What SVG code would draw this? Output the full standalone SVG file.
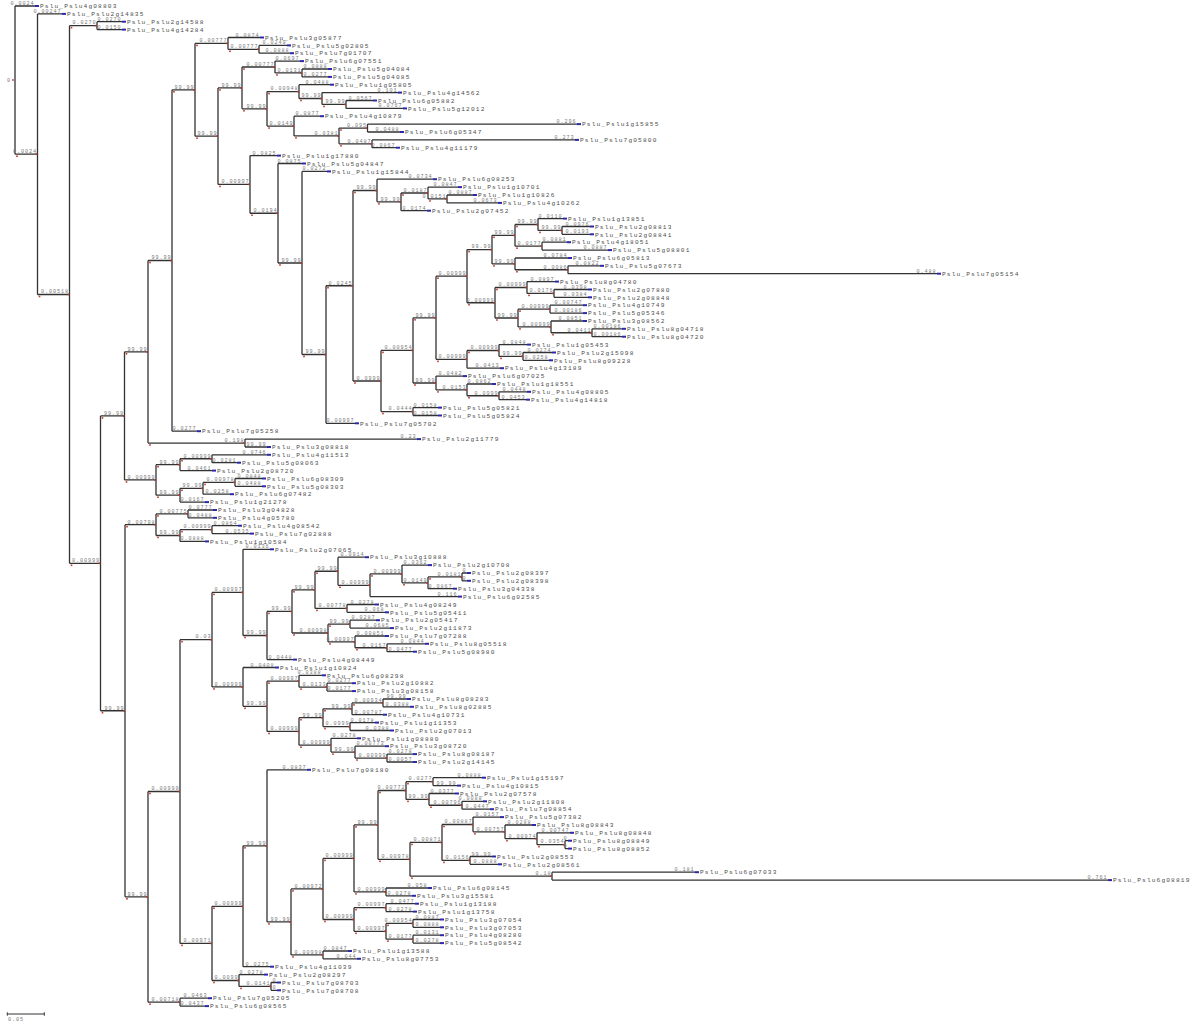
<svg xmlns="http://www.w3.org/2000/svg" xmlns:xlink="http://www.w3.org/1999/xlink" width="1200" height="1024" viewBox="0 0 1200 1024">
<style>
.c path{fill:none;stroke:#333;stroke-width:1.3}
.n{font-family:"Liberation Mono","DejaVu Sans Mono",monospace;font-size:5.2px;fill:#7a7a7a;letter-spacing:0.9px;text-anchor:end}
.t{font-family:"Liberation Mono","DejaVu Sans Mono",monospace;font-size:6.2px;fill:#4e4e4e;letter-spacing:1.13px}
</style>
<defs>
<rect id="rd" width="1.6" height="1.6" fill="#c0392b"/>
<rect id="bm" width="4" height="2" fill="#2a2ab0"/>
</defs>
<rect width="1200" height="1024" fill="#fff"/>
<g id="connectors" class="c">
<path d="M15 6V154.2M15 6H35M15 154.2H37.5"/>
<path d="M37.5 13.9V294.5M37.5 13.9H62M37.5 294.5H69.5"/>
<path d="M69.5 25.65V563.3M69.5 25.65H97M69.5 563.3H100.5"/>
<path d="M97 21.7V29.6M97 21.7H122M97 29.6H122"/>
<path d="M100.5 415.9V710.75M100.5 415.9H124.5M100.5 710.75H125"/>
<path d="M124.5 351.8V479.95M124.5 351.8H148M124.5 479.95H156"/>
<path d="M148 260.5V443.05M148 260.5H172M148 443.05H245"/>
<path d="M172 89.8V431.2M172 89.8H195M172 431.2H197"/>
<path d="M195 43.4V136.15M195 43.4H228M195 136.15H218"/>
<path d="M228 37.5V49.3M228 37.5H260M228 49.3H259"/>
<path d="M259 45.4V53.2M259 45.4H287M259 53.2H290"/>
<path d="M218 87.9V184.4M218 87.9H242M218 184.4H250"/>
<path d="M242 67V108.8M242 67H275M242 108.8H267"/>
<path d="M275 61.1V72.95M275 61.1H300M275 72.95H302"/>
<path d="M302 69V76.9M302 69H328M302 76.9H328"/>
<path d="M267 91.6V126.05M267 91.6H299M267 126.05H294"/>
<path d="M299 84.7V98.5M299 84.7H330M299 98.5H322"/>
<path d="M322 92.6V104.45M322 92.6H398M322 104.45H346"/>
<path d="M346 100.5V108.4M346 100.5H373M346 108.4H403"/>
<path d="M294 116.2V135.9M294 116.2H320M294 135.9H339"/>
<path d="M339 128.05V143.8M339 128.05H367.5M339 143.8H372"/>
<path d="M367.5 124.1V132M367.5 124.1H577M367.5 132H400"/>
<path d="M372 139.9V147.7M372 139.9H575M372 147.7H396"/>
<path d="M250 155.6V213.25M250 155.6H277M250 213.25H278"/>
<path d="M278 163.5V263M278 163.5H302M278 263H302"/>
<path d="M302 171.4V354.5M302 171.4H327M302 354.5H326"/>
<path d="M326 285.75V423.3M326 285.75H353M326 423.3H355"/>
<path d="M353 190.5V381M353 190.5H377M353 381H381"/>
<path d="M377 179.2V201.85M377 179.2H433M377 201.85H401"/>
<path d="M401 193V210.7M401 193H428M401 210.7H427"/>
<path d="M428 187.1V198.95M428 187.1H458M428 198.95H447"/>
<path d="M447 195V202.9M447 195H473M447 202.9H498"/>
<path d="M381 350.4V411.55M381 350.4H413M381 411.55H413"/>
<path d="M413 317.8V383M413 317.8H436M413 383H436"/>
<path d="M436 276.2V359.35M436 276.2H467M436 359.35H467"/>
<path d="M467 249.6V302.75M467 249.6H492M467 302.75H495"/>
<path d="M492 235.3V263.9M492 235.3H515M492 263.9H515"/>
<path d="M515 224.5V246.15M515 224.5H538M515 246.15H542"/>
<path d="M538 218.6V230.4M538 218.6H563M538 230.4H562"/>
<path d="M562 226.5V234.3M562 226.5H590M562 234.3H590"/>
<path d="M542 242.2V250.1M542 242.2H567M542 250.1H608"/>
<path d="M515 258V269.75M515 258H568M515 269.75H568"/>
<path d="M568 265.8V273.7M568 265.8H600M568 273.7H937"/>
<path d="M495 287.5V318M495 287.5H527M495 318H518"/>
<path d="M527 281.6V293.4M527 281.6H555M527 293.4H554"/>
<path d="M554 289.5V297.3M554 289.5H588M554 297.3H588"/>
<path d="M518 309.15V326.9M518 309.15H550M518 326.9H551"/>
<path d="M550 305.2V313.1M550 305.2H583M550 313.1H583"/>
<path d="M551 321V332.75M551 321H583M551 332.75H592"/>
<path d="M592 328.8V336.7M592 328.8H622M592 336.7H622"/>
<path d="M467 350.5V368.2M467 350.5H499M467 368.2H500"/>
<path d="M499 344.6V356.4M499 344.6H527M499 356.4H523"/>
<path d="M523 352.5V360.3M523 352.5H552M523 360.3H549"/>
<path d="M436 376.1V389.9M436 376.1H463M436 389.9H467"/>
<path d="M467 384V395.75M467 384H492M467 395.75H499"/>
<path d="M499 391.8V399.7M499 391.8H527M499 399.7H526"/>
<path d="M413 407.6V415.5M413 407.6H438M413 415.5H438"/>
<path d="M245 439.1V447M245 439.1H417M245 447H267"/>
<path d="M156 464.7V495.2M156 464.7H180M156 495.2H180"/>
<path d="M180 458.75V470.6M180 458.75H212M180 470.6H212"/>
<path d="M212 454.8V462.7M212 454.8H267M212 462.7H237"/>
<path d="M180 488.3V502.1M180 488.3H203M180 502.1H205"/>
<path d="M203 482.4V494.2M203 482.4H235M203 494.2H230"/>
<path d="M235 478.5V486.3M235 478.5H262M235 486.3H262"/>
<path d="M125 524.7V896.8M125 524.7H156M125 896.8H148"/>
<path d="M156 513.9V535.5M156 513.9H188M156 535.5H180"/>
<path d="M188 510V517.8M188 510H213M188 517.8H213"/>
<path d="M180 529.65V541.4M180 529.65H212M180 541.4H205"/>
<path d="M212 525.7V533.6M212 525.7H238M212 533.6H250"/>
<path d="M148 791.5V1002.15M148 791.5H180M148 1002.15H180"/>
<path d="M180 639.65V943.4M180 639.65H212M180 943.4H212"/>
<path d="M212 592.4V686.9M212 592.4H243M212 686.9H243"/>
<path d="M243 549.3V635.5M243 549.3H270M243 635.5H267"/>
<path d="M267 611.4V659.6M267 611.4H292M267 659.6H293"/>
<path d="M292 589.8V633M292 589.8H315M292 633H328"/>
<path d="M315 571.25V608.4M315 571.25H338M315 608.4H347"/>
<path d="M338 557.2V585.3M338 557.2H365M338 585.3H370"/>
<path d="M370 573.95V596.6M370 573.95H402M370 596.6H458"/>
<path d="M402 565.1V582.8M402 565.1H428M402 582.8H428"/>
<path d="M428 576.9V588.7M428 576.9H462M428 588.7H453"/>
<path d="M462 573V580.8M462 573H467M462 580.8H467"/>
<path d="M347 604.5V612.3M347 604.5H375M347 612.3H385"/>
<path d="M328 624.15V641.9M328 624.15H350M328 641.9H355"/>
<path d="M350 620.2V628.1M350 620.2H376M350 628.1H390"/>
<path d="M355 636V647.75M355 636H385M355 647.75H387"/>
<path d="M387 643.8V651.7M387 643.8H425M387 651.7H413"/>
<path d="M243 667.5V706.3M243 667.5H275M243 706.3H267"/>
<path d="M267 681.2V731.45M267 681.2H299M267 731.45H299"/>
<path d="M299 675.3V687.15M299 675.3H322M299 687.15H327"/>
<path d="M327 683.2V691.1M327 683.2H352M327 691.1H352"/>
<path d="M299 717.7V745.2M299 717.7H323M299 745.2H331"/>
<path d="M323 708.8V726.55M323 708.8H352M323 726.55H350"/>
<path d="M352 702.9V714.7M352 702.9H383M352 714.7H383"/>
<path d="M383 699V706.8M383 699H407M383 706.8H410"/>
<path d="M350 722.6V730.5M350 722.6H375M350 730.5H390"/>
<path d="M331 738.3V752.1M331 738.3H357M331 752.1H355"/>
<path d="M355 746.2V758.05M355 746.2H385M355 758.05H387"/>
<path d="M387 754.1V762M387 754.1H413M387 762H413"/>
<path d="M212 906.3V980.5M212 906.3H243M212 980.5H239"/>
<path d="M243 845.85V966.7M243 845.85H267M243 966.7H270"/>
<path d="M267 769.8V921.9M267 769.8H307M267 921.9H291"/>
<path d="M291 888.95V954.9M291 888.95H323M291 954.9H323"/>
<path d="M323 858.4V919.5M323 858.4H354M323 919.5H354"/>
<path d="M354 824.9V891.9M354 824.9H378M354 891.9H386"/>
<path d="M378 790.5V859.3M378 790.5H406M378 859.3H410"/>
<path d="M406 781.65V799.4M406 781.65H433M406 799.4H429"/>
<path d="M433 777.7V785.6M433 777.7H482M433 785.6H457"/>
<path d="M429 793.5V805.25M429 793.5H455M429 805.25H462"/>
<path d="M462 801.3V809.2M462 801.3H483M462 809.2H490"/>
<path d="M410 842.45V876.15M410 842.45H442M410 876.15H552"/>
<path d="M442 824.5V860.4M442 824.5H473M442 860.4H470"/>
<path d="M473 817.1V831.85M473 817.1H500M473 831.85H505"/>
<path d="M505 825V838.7M505 825H532M505 838.7H537"/>
<path d="M537 832.8V844.65M537 832.8H570M537 844.65H565"/>
<path d="M565 840.7V848.6M565 840.7H568M565 848.6H568"/>
<path d="M470 856.5V864.3M470 856.5H492M470 864.3H498"/>
<path d="M552 872.2V880.1M552 872.2H695M552 880.1H1108"/>
<path d="M386 888V895.8M386 888H428M386 895.8H412"/>
<path d="M354 907.65V931.3M354 907.65H386M354 931.3H386"/>
<path d="M386 903.7V911.6M386 903.7H415M386 911.6H413"/>
<path d="M386 923.4V939.15M386 923.4H413M386 939.15H413"/>
<path d="M413 919.5V927.3M413 919.5H440M413 927.3H440"/>
<path d="M413 935.2V943.1M413 935.2H440M413 943.1H440"/>
<path d="M323 951V958.8M323 951H348M323 958.8H357"/>
<path d="M239 974.6V986.4M239 974.6H264M239 986.4H271"/>
<path d="M271 982.5V990.3M271 982.5H277M271 990.3H277"/>
<path d="M180 998.2V1006.1M180 998.2H208M180 1006.1H205"/>
</g>
<g id="root"><text class="n" x="11" y="82">0</text><use href="#rd" x="12.2" y="79.2"/></g>
<g id="nodes">
<g id="N1"><use href="#rd" x="16.2" y="155.4"/><use href="#rd" x="35.7" y="153.4"/><text class="n" x="37" y="153">0.0024</text></g>
<g id="N2"><use href="#rd" x="38.7" y="295.7"/><use href="#rd" x="67.7" y="293.7"/><text class="n" x="69" y="293.3">0.00518</text></g>
<g id="N3"><use href="#rd" x="70.7" y="26.85"/><use href="#rd" x="95.2" y="24.85"/><text class="n" x="96.5" y="24.45">0.0270</text></g>
<g id="N4"><use href="#rd" x="70.7" y="564.5"/><use href="#rd" x="98.7" y="562.5"/><text class="n" x="100" y="562.1">0.00999</text></g>
<g id="N5"><use href="#rd" x="101.7" y="417.1"/><use href="#rd" x="122.7" y="415.1"/><text class="n" x="124" y="414.7">99.99</text></g>
<g id="N63"><use href="#rd" x="101.7" y="711.95"/><use href="#rd" x="123.2" y="709.95"/><text class="n" x="124.5" y="709.55">99.99</text></g>
<g id="N6"><use href="#rd" x="125.7" y="353"/><use href="#rd" x="146.2" y="351"/><text class="n" x="147.5" y="350.6">99.99</text></g>
<g id="NG"><use href="#rd" x="125.7" y="481.15"/><use href="#rd" x="154.2" y="479.15"/><text class="n" x="155.5" y="478.75">0.00999</text></g>
<g id="N7"><use href="#rd" x="149.2" y="261.7"/><use href="#rd" x="170.2" y="259.7"/><text class="n" x="171.5" y="259.3">99.99</text></g>
<g id="NX"><use href="#rd" x="149.2" y="444.25"/><use href="#rd" x="243.2" y="442.25"/><text class="n" x="244.5" y="441.85">0.198</text></g>
<g id="N8"><use href="#rd" x="173.2" y="91"/><use href="#rd" x="193.2" y="89"/><text class="n" x="194.5" y="88.6">99.99</text></g>
<g id="N9"><use href="#rd" x="196.2" y="44.6"/><use href="#rd" x="226.2" y="42.6"/><text class="n" x="227.5" y="42.2">0.00777</text></g>
<g id="N10"><use href="#rd" x="196.2" y="137.35"/><use href="#rd" x="216.2" y="135.35"/><text class="n" x="217.5" y="134.95">99.99</text></g>
<g id="N11"><use href="#rd" x="229.2" y="50.5"/><use href="#rd" x="257.2" y="48.5"/><text class="n" x="258.5" y="48.1">0.00777</text></g>
<g id="N12"><use href="#rd" x="219.2" y="89.1"/><use href="#rd" x="240.2" y="87.1"/><text class="n" x="241.5" y="86.7">99.99</text></g>
<g id="N20"><use href="#rd" x="219.2" y="185.6"/><use href="#rd" x="248.2" y="183.6"/><text class="n" x="249.5" y="183.2">0.00997</text></g>
<g id="N13"><use href="#rd" x="243.2" y="68.2"/><use href="#rd" x="273.2" y="66.2"/><text class="n" x="274.5" y="65.8">0.00777</text></g>
<g id="N14"><use href="#rd" x="243.2" y="110"/><use href="#rd" x="265.2" y="108"/><text class="n" x="266.5" y="107.6">99.99</text></g>
<g id="N15"><use href="#rd" x="276.2" y="74.15"/><use href="#rd" x="300.2" y="72.15"/><text class="n" x="301.5" y="71.75">0.0131</text></g>
<g id="N16"><use href="#rd" x="268.2" y="92.8"/><use href="#rd" x="297.2" y="90.8"/><text class="n" x="298.5" y="90.4">0.00948</text></g>
<g id="N17"><use href="#rd" x="268.2" y="127.25"/><use href="#rd" x="292.2" y="125.25"/><text class="n" x="293.5" y="124.85">0.0149</text></g>
<g id="N18"><use href="#rd" x="300.2" y="99.7"/><use href="#rd" x="320.2" y="97.7"/><text class="n" x="321.5" y="97.3">99.99</text></g>
<g id="N19"><use href="#rd" x="323.2" y="105.65"/><use href="#rd" x="344.2" y="103.65"/><text class="n" x="345.5" y="103.25">99.99</text></g>
<g id="N21"><use href="#rd" x="295.2" y="137.1"/><use href="#rd" x="337.2" y="135.1"/><text class="n" x="338.5" y="134.7">0.0381</text></g>
<g id="N22"><use href="#rd" x="340.2" y="129.25"/><use href="#rd" x="365.7" y="127.25"/><text class="n" x="367" y="126.85">0.095</text></g>
<g id="N23"><use href="#rd" x="340.2" y="145"/><use href="#rd" x="370.2" y="143"/><text class="n" x="371.5" y="142.6">0.0487</text></g>
<g id="N24"><use href="#rd" x="251.2" y="214.45"/><use href="#rd" x="276.2" y="212.45"/><text class="n" x="277.5" y="212.05">0.0194</text></g>
<g id="N25"><use href="#rd" x="279.2" y="264.2"/><use href="#rd" x="300.2" y="262.2"/><text class="n" x="301.5" y="261.8">99.99</text></g>
<g id="N26"><use href="#rd" x="303.2" y="355.7"/><use href="#rd" x="324.2" y="353.7"/><text class="n" x="325.5" y="353.3">99.99</text></g>
<g id="N27"><use href="#rd" x="327.2" y="286.95"/><use href="#rd" x="351.2" y="284.95"/><text class="n" x="352.5" y="284.55">0.0245</text></g>
<g id="N28"><use href="#rd" x="354.2" y="191.7"/><use href="#rd" x="375.2" y="189.7"/><text class="n" x="376.5" y="189.3">99.99</text></g>
<g id="N29"><use href="#rd" x="354.2" y="382.2"/><use href="#rd" x="379.2" y="380.2"/><text class="n" x="380.5" y="379.8">0.0999</text></g>
<g id="N30"><use href="#rd" x="378.2" y="203.05"/><use href="#rd" x="399.2" y="201.05"/><text class="n" x="400.5" y="200.65">99.99</text></g>
<g id="N31"><use href="#rd" x="402.2" y="194.2"/><use href="#rd" x="426.2" y="192.2"/><text class="n" x="427.5" y="191.8">0.0187</text></g>
<g id="N32"><use href="#rd" x="429.2" y="200.15"/><use href="#rd" x="445.2" y="198.15"/><text class="n" x="446.5" y="197.75">0.0151</text></g>
<g id="N33"><use href="#rd" x="382.2" y="351.6"/><use href="#rd" x="411.2" y="349.6"/><text class="n" x="412.5" y="349.2">0.00954</text></g>
<g id="N34"><use href="#rd" x="382.2" y="412.75"/><use href="#rd" x="411.2" y="410.75"/><text class="n" x="412.5" y="410.35">0.0444</text></g>
<g id="N35"><use href="#rd" x="414.2" y="319"/><use href="#rd" x="434.2" y="317"/><text class="n" x="435.5" y="316.6">99.99</text></g>
<g id="N36"><use href="#rd" x="414.2" y="384.2"/><use href="#rd" x="434.2" y="382.2"/><text class="n" x="435.5" y="381.8">99.99</text></g>
<g id="N37"><use href="#rd" x="437.2" y="277.4"/><use href="#rd" x="465.2" y="275.4"/><text class="n" x="466.5" y="275">0.00999</text></g>
<g id="N52"><use href="#rd" x="437.2" y="360.55"/><use href="#rd" x="465.2" y="358.55"/><text class="n" x="466.5" y="358.15">0.00999</text></g>
<g id="N40"><use href="#rd" x="468.2" y="250.8"/><use href="#rd" x="490.2" y="248.8"/><text class="n" x="491.5" y="248.4">99.99</text></g>
<g id="N45"><use href="#rd" x="468.2" y="303.95"/><use href="#rd" x="493.2" y="301.95"/><text class="n" x="494.5" y="301.55">0.00999</text></g>
<g id="N41"><use href="#rd" x="493.2" y="236.5"/><use href="#rd" x="513.2" y="234.5"/><text class="n" x="514.5" y="234.1">99.99</text></g>
<g id="N42"><use href="#rd" x="493.2" y="265.1"/><use href="#rd" x="513.2" y="263.1"/><text class="n" x="514.5" y="262.7">99.99</text></g>
<g id="N38"><use href="#rd" x="516.2" y="225.7"/><use href="#rd" x="536.2" y="223.7"/><text class="n" x="537.5" y="223.3">99.99</text></g>
<g id="N39"><use href="#rd" x="516.2" y="247.35"/><use href="#rd" x="540.2" y="245.35"/><text class="n" x="541.5" y="244.95">0.0177</text></g>
<g id="N43"><use href="#rd" x="539.2" y="231.6"/><use href="#rd" x="560.2" y="229.6"/><text class="n" x="561.5" y="229.2">99.99</text></g>
<g id="N44"><use href="#rd" x="516.2" y="270.95"/><use href="#rd" x="566.2" y="268.95"/><text class="n" x="567.5" y="268.55">0.0086</text></g>
<g id="N46"><use href="#rd" x="496.2" y="288.7"/><use href="#rd" x="525.2" y="286.7"/><text class="n" x="526.5" y="286.3">0.00999</text></g>
<g id="N47"><use href="#rd" x="496.2" y="319.2"/><use href="#rd" x="516.2" y="317.2"/><text class="n" x="517.5" y="316.8">99.99</text></g>
<g id="N48"><use href="#rd" x="528.2" y="294.6"/><use href="#rd" x="552.2" y="292.6"/><text class="n" x="553.5" y="292.2">0.0176</text></g>
<g id="N49"><use href="#rd" x="519.2" y="310.35"/><use href="#rd" x="548.2" y="308.35"/><text class="n" x="549.5" y="307.95">0.00999</text></g>
<g id="N50"><use href="#rd" x="519.2" y="328.1"/><use href="#rd" x="549.2" y="326.1"/><text class="n" x="550.5" y="325.7">0.00999</text></g>
<g id="N51"><use href="#rd" x="552.2" y="333.95"/><use href="#rd" x="590.2" y="331.95"/><text class="n" x="591.5" y="331.55">0.0411</text></g>
<g id="N53"><use href="#rd" x="468.2" y="351.7"/><use href="#rd" x="497.2" y="349.7"/><text class="n" x="498.5" y="349.3">0.00999</text></g>
<g id="N54"><use href="#rd" x="500.2" y="357.6"/><use href="#rd" x="521.2" y="355.6"/><text class="n" x="522.5" y="355.2">99.99</text></g>
<g id="N55"><use href="#rd" x="437.2" y="391.1"/><use href="#rd" x="465.2" y="389.1"/><text class="n" x="466.5" y="388.7">0.0153</text></g>
<g id="N56"><use href="#rd" x="468.2" y="396.95"/><use href="#rd" x="497.2" y="394.95"/><text class="n" x="498.5" y="394.55">0.0999</text></g>
<g id="N57"><use href="#rd" x="157.2" y="465.9"/><use href="#rd" x="178.2" y="463.9"/><text class="n" x="179.5" y="463.5">99.99</text></g>
<g id="N58"><use href="#rd" x="157.2" y="496.4"/><use href="#rd" x="178.2" y="494.4"/><text class="n" x="179.5" y="494">99.99</text></g>
<g id="N59"><use href="#rd" x="181.2" y="459.95"/><use href="#rd" x="210.2" y="457.95"/><text class="n" x="211.5" y="457.55">0.00999</text></g>
<g id="N60"><use href="#rd" x="181.2" y="489.5"/><use href="#rd" x="201.2" y="487.5"/><text class="n" x="202.5" y="487.1">99.99</text></g>
<g id="N61"><use href="#rd" x="204.2" y="483.6"/><use href="#rd" x="233.2" y="481.6"/><text class="n" x="234.5" y="481.2">0.00978</text></g>
<g id="N64"><use href="#rd" x="126.2" y="525.9"/><use href="#rd" x="154.2" y="523.9"/><text class="n" x="155.5" y="523.5">0.00798</text></g>
<g id="N65"><use href="#rd" x="126.2" y="898"/><use href="#rd" x="146.2" y="896"/><text class="n" x="147.5" y="895.6">99.99</text></g>
<g id="N66"><use href="#rd" x="157.2" y="515.1"/><use href="#rd" x="186.2" y="513.1"/><text class="n" x="187.5" y="512.7">0.00775</text></g>
<g id="N67"><use href="#rd" x="157.2" y="536.7"/><use href="#rd" x="178.2" y="534.7"/><text class="n" x="179.5" y="534.3">99.99</text></g>
<g id="N62"><use href="#rd" x="181.2" y="530.85"/><use href="#rd" x="210.2" y="528.85"/><text class="n" x="211.5" y="528.45">0.00999</text></g>
<g id="N68"><use href="#rd" x="149.2" y="792.7"/><use href="#rd" x="178.2" y="790.7"/><text class="n" x="179.5" y="790.3">0.00999</text></g>
<g id="N71"><use href="#rd" x="149.2" y="1003.35"/><use href="#rd" x="178.2" y="1001.35"/><text class="n" x="179.5" y="1000.95">0.00718</text></g>
<g id="N69"><use href="#rd" x="181.2" y="640.85"/><use href="#rd" x="210.2" y="638.85"/><text class="n" x="211.5" y="638.45">0.03</text></g>
<g id="N70"><use href="#rd" x="181.2" y="944.6"/><use href="#rd" x="210.2" y="942.6"/><text class="n" x="211.5" y="942.2">0.00971</text></g>
<g id="N72"><use href="#rd" x="213.2" y="593.6"/><use href="#rd" x="241.2" y="591.6"/><text class="n" x="242.5" y="591.2">0.00997</text></g>
<g id="N73"><use href="#rd" x="213.2" y="688.1"/><use href="#rd" x="241.2" y="686.1"/><text class="n" x="242.5" y="685.7">0.00999</text></g>
<g id="N74"><use href="#rd" x="244.2" y="636.7"/><use href="#rd" x="265.2" y="634.7"/><text class="n" x="266.5" y="634.3">99.99</text></g>
<g id="N75"><use href="#rd" x="268.2" y="612.6"/><use href="#rd" x="290.2" y="610.6"/><text class="n" x="291.5" y="610.2">99.99</text></g>
<g id="N76"><use href="#rd" x="293.2" y="591"/><use href="#rd" x="313.2" y="589"/><text class="n" x="314.5" y="588.6">99.99</text></g>
<g id="N77"><use href="#rd" x="293.2" y="634.2"/><use href="#rd" x="326.2" y="632.2"/><text class="n" x="327.5" y="631.8">0.00998</text></g>
<g id="N78"><use href="#rd" x="316.2" y="572.45"/><use href="#rd" x="336.2" y="570.45"/><text class="n" x="337.5" y="570.05">99.99</text></g>
<g id="N79"><use href="#rd" x="316.2" y="609.6"/><use href="#rd" x="345.2" y="607.6"/><text class="n" x="346.5" y="607.2">0.00778</text></g>
<g id="N80"><use href="#rd" x="339.2" y="586.5"/><use href="#rd" x="368.2" y="584.5"/><text class="n" x="369.5" y="584.1">0.00999</text></g>
<g id="N81"><use href="#rd" x="371.2" y="575.15"/><use href="#rd" x="400.2" y="573.15"/><text class="n" x="401.5" y="572.75">0.00999</text></g>
<g id="N82"><use href="#rd" x="403.2" y="584"/><use href="#rd" x="426.2" y="582"/><text class="n" x="427.5" y="581.6">0.0149</text></g>
<g id="N83"><use href="#rd" x="429.2" y="578.1"/><use href="#rd" x="460.2" y="576.1"/><text class="n" x="461.5" y="575.7">0.0181</text></g>
<g id="N84"><use href="#rd" x="329.2" y="625.35"/><use href="#rd" x="348.2" y="623.35"/><text class="n" x="349.5" y="622.95">99.99</text></g>
<g id="N85"><use href="#rd" x="329.2" y="643.1"/><use href="#rd" x="353.2" y="641.1"/><text class="n" x="354.5" y="640.7">0.00997</text></g>
<g id="N86"><use href="#rd" x="356.2" y="648.95"/><use href="#rd" x="385.2" y="646.95"/><text class="n" x="386.5" y="646.55">0.0167</text></g>
<g id="N87"><use href="#rd" x="244.2" y="707.5"/><use href="#rd" x="265.2" y="705.5"/><text class="n" x="266.5" y="705.1">99.99</text></g>
<g id="N88"><use href="#rd" x="268.2" y="682.4"/><use href="#rd" x="297.2" y="680.4"/><text class="n" x="298.5" y="680">0.00997</text></g>
<g id="N89"><use href="#rd" x="268.2" y="732.65"/><use href="#rd" x="297.2" y="730.65"/><text class="n" x="298.5" y="730.25">0.00999</text></g>
<g id="N90"><use href="#rd" x="300.2" y="688.35"/><use href="#rd" x="325.2" y="686.35"/><text class="n" x="326.5" y="685.95">0.0133</text></g>
<g id="N91"><use href="#rd" x="300.2" y="718.9"/><use href="#rd" x="321.2" y="716.9"/><text class="n" x="322.5" y="716.5">99.99</text></g>
<g id="N92"><use href="#rd" x="300.2" y="746.4"/><use href="#rd" x="329.2" y="744.4"/><text class="n" x="330.5" y="744">0.00999</text></g>
<g id="N93"><use href="#rd" x="324.2" y="710"/><use href="#rd" x="350.2" y="708"/><text class="n" x="351.5" y="707.6">99.99</text></g>
<g id="N94"><use href="#rd" x="324.2" y="727.75"/><use href="#rd" x="348.2" y="725.75"/><text class="n" x="349.5" y="725.35">0.0999</text></g>
<g id="N95"><use href="#rd" x="353.2" y="704.1"/><use href="#rd" x="381.2" y="702.1"/><text class="n" x="382.5" y="701.7">0.00934</text></g>
<g id="N96"><use href="#rd" x="332.2" y="753.3"/><use href="#rd" x="353.2" y="751.3"/><text class="n" x="354.5" y="750.9">99.99</text></g>
<g id="N97"><use href="#rd" x="356.2" y="759.25"/><use href="#rd" x="385.2" y="757.25"/><text class="n" x="386.5" y="756.85">0.00999</text></g>
<g id="N98"><use href="#rd" x="213.2" y="907.5"/><use href="#rd" x="241.2" y="905.5"/><text class="n" x="242.5" y="905.1">0.00999</text></g>
<g id="N99"><use href="#rd" x="213.2" y="981.7"/><use href="#rd" x="237.2" y="979.7"/><text class="n" x="238.5" y="979.3">0.0099</text></g>
<g id="N100"><use href="#rd" x="240.2" y="987.6"/><use href="#rd" x="269.2" y="985.6"/><text class="n" x="270.5" y="985.2">0.0141</text></g>
<g id="N101"><use href="#rd" x="244.2" y="847.05"/><use href="#rd" x="265.2" y="845.05"/><text class="n" x="266.5" y="844.65">99.99</text></g>
<g id="N102"><use href="#rd" x="268.2" y="923.1"/><use href="#rd" x="289.2" y="921.1"/><text class="n" x="290.5" y="920.7">99.99</text></g>
<g id="N103"><use href="#rd" x="292.2" y="890.15"/><use href="#rd" x="321.2" y="888.15"/><text class="n" x="322.5" y="887.75">0.00972</text></g>
<g id="N104"><use href="#rd" x="292.2" y="956.1"/><use href="#rd" x="321.2" y="954.1"/><text class="n" x="322.5" y="953.7">0.00998</text></g>
<g id="N105"><use href="#rd" x="324.2" y="859.6"/><use href="#rd" x="352.2" y="857.6"/><text class="n" x="353.5" y="857.2">0.00999</text></g>
<g id="N106"><use href="#rd" x="324.2" y="920.7"/><use href="#rd" x="352.2" y="918.7"/><text class="n" x="353.5" y="918.3">0.00999</text></g>
<g id="N107"><use href="#rd" x="355.2" y="826.1"/><use href="#rd" x="376.2" y="824.1"/><text class="n" x="377.5" y="823.7">99.99</text></g>
<g id="N108"><use href="#rd" x="355.2" y="893.1"/><use href="#rd" x="384.2" y="891.1"/><text class="n" x="385.5" y="890.7">0.00999</text></g>
<g id="N109"><use href="#rd" x="379.2" y="791.7"/><use href="#rd" x="404.2" y="789.7"/><text class="n" x="405.5" y="789.3">0.00772</text></g>
<g id="N110"><use href="#rd" x="379.2" y="860.5"/><use href="#rd" x="408.2" y="858.5"/><text class="n" x="409.5" y="858.1">0.00978</text></g>
<g id="N111"><use href="#rd" x="407.2" y="782.85"/><use href="#rd" x="431.2" y="780.85"/><text class="n" x="432.5" y="780.45">0.0277</text></g>
<g id="N112"><use href="#rd" x="407.2" y="800.6"/><use href="#rd" x="427.2" y="798.6"/><text class="n" x="428.5" y="798.2">99.99</text></g>
<g id="N113"><use href="#rd" x="430.2" y="806.45"/><use href="#rd" x="460.2" y="804.45"/><text class="n" x="461.5" y="804.05">0.00796</text></g>
<g id="N114"><use href="#rd" x="411.2" y="843.65"/><use href="#rd" x="440.2" y="841.65"/><text class="n" x="441.5" y="841.25">0.00871</text></g>
<g id="N115"><use href="#rd" x="411.2" y="877.35"/><use href="#rd" x="550.2" y="875.35"/><text class="n" x="551.5" y="874.95">0.18</text></g>
<g id="N116"><use href="#rd" x="443.2" y="825.7"/><use href="#rd" x="471.2" y="823.7"/><text class="n" x="472.5" y="823.3">0.00887</text></g>
<g id="N117"><use href="#rd" x="443.2" y="861.6"/><use href="#rd" x="468.2" y="859.6"/><text class="n" x="469.5" y="859.2">0.0156</text></g>
<g id="N118"><use href="#rd" x="474.2" y="833.05"/><use href="#rd" x="503.2" y="831.05"/><text class="n" x="504.5" y="830.65">0.00757</text></g>
<g id="N119"><use href="#rd" x="506.2" y="839.9"/><use href="#rd" x="535.2" y="837.9"/><text class="n" x="536.5" y="837.5">0.00974</text></g>
<g id="N120"><use href="#rd" x="538.2" y="845.85"/><use href="#rd" x="563.2" y="843.85"/><text class="n" x="564.5" y="843.45">0.0354</text></g>
<g id="N121"><use href="#rd" x="355.2" y="908.85"/><use href="#rd" x="384.2" y="906.85"/><text class="n" x="385.5" y="906.45">0.00997</text></g>
<g id="N122"><use href="#rd" x="355.2" y="932.5"/><use href="#rd" x="384.2" y="930.5"/><text class="n" x="385.5" y="930.1">0.00997</text></g>
<g id="N123"><use href="#rd" x="387.2" y="924.6"/><use href="#rd" x="411.2" y="922.6"/><text class="n" x="412.5" y="922.2">0.00954</text></g>
<g id="N124"><use href="#rd" x="387.2" y="940.35"/><use href="#rd" x="411.2" y="938.35"/><text class="n" x="412.5" y="937.95">0.0177</text></g>
</g>
<g id="leaves">
<g id="L1"><text class="n" x="34.5" y="5">0.0024</text><use href="#bm" x="35" y="5"/><text class="t" x="40" y="8.2">Pslu_Pslu4g08803</text></g>
<g id="L2"><text class="n" x="61.5" y="12.9">0.00247</text><use href="#bm" x="62" y="12.9"/><text class="t" x="67" y="16.1">Pslu_Pslu2g14835</text></g>
<g id="L3"><text class="n" x="121.5" y="20.7">0.0270</text><use href="#bm" x="122" y="20.7"/><text class="t" x="127" y="23.9">Pslu_Pslu2g14588</text></g>
<g id="L4"><text class="n" x="121.5" y="28.6">0.0150</text><use href="#bm" x="122" y="28.6"/><text class="t" x="127" y="31.8">Pslu_Pslu4g14284</text></g>
<g id="L5"><text class="n" x="259.5" y="36.5">0.0874</text><use href="#bm" x="260" y="36.5"/><text class="t" x="265" y="39.7">Pslu_Pslu3g05877</text></g>
<g id="L6"><text class="n" x="286.5" y="44.4">0.0249</text><use href="#bm" x="287" y="44.4"/><text class="t" x="292" y="47.6">Pslu_Pslu5g02805</text></g>
<g id="L7"><text class="n" x="289.5" y="52.2">0.0888</text><use href="#bm" x="290" y="52.2"/><text class="t" x="295" y="55.4">Pslu_Pslu7g01707</text></g>
<g id="L8"><text class="n" x="299.5" y="60.1">0.0697</text><use href="#bm" x="300" y="60.1"/><text class="t" x="305" y="63.3">Pslu_Pslu6g07551</text></g>
<g id="L9"><text class="n" x="327.5" y="68">0.0888</text><use href="#bm" x="328" y="68"/><text class="t" x="333" y="71.2">Pslu_Pslu5g04084</text></g>
<g id="L10"><text class="n" x="327.5" y="75.9">0.0277</text><use href="#bm" x="328" y="75.9"/><text class="t" x="333" y="79.1">Pslu_Pslu5g04085</text></g>
<g id="L11"><text class="n" x="329.5" y="83.7">0.0488</text><use href="#bm" x="330" y="83.7"/><text class="t" x="335" y="86.9">Pslu_Pslu1g05805</text></g>
<g id="L12"><text class="n" x="397.5" y="91.6">0.101</text><use href="#bm" x="398" y="91.6"/><text class="t" x="403" y="94.8">Pslu_Pslu4g14562</text></g>
<g id="L13"><text class="n" x="372.5" y="99.5">0.0567</text><use href="#bm" x="373" y="99.5"/><text class="t" x="378" y="102.7">Pslu_Pslu6g05882</text></g>
<g id="L14"><text class="n" x="402.5" y="107.4">0.0767</text><use href="#bm" x="403" y="107.4"/><text class="t" x="408" y="110.6">Pslu_Pslu5g12012</text></g>
<g id="L15"><text class="n" x="319.5" y="115.2">0.0877</text><use href="#bm" x="320" y="115.2"/><text class="t" x="325" y="118.4">Pslu_Pslu4g10879</text></g>
<g id="L16"><text class="n" x="576.5" y="123.1">0.296</text><use href="#bm" x="577" y="123.1"/><text class="t" x="582" y="126.3">Pslu_Pslu1g15855</text></g>
<g id="L17"><text class="n" x="399.5" y="131">0.0488</text><use href="#bm" x="400" y="131"/><text class="t" x="405" y="134.2">Pslu_Pslu6g05347</text></g>
<g id="L18"><text class="n" x="574.5" y="138.9">0.273</text><use href="#bm" x="575" y="138.9"/><text class="t" x="580" y="142.1">Pslu_Pslu7g05800</text></g>
<g id="L19"><text class="n" x="395.5" y="146.7">0.0867</text><use href="#bm" x="396" y="146.7"/><text class="t" x="401" y="149.9">Pslu_Pslu4g11179</text></g>
<g id="L20"><text class="n" x="276.5" y="154.6">0.0825</text><use href="#bm" x="277" y="154.6"/><text class="t" x="282" y="157.8">Pslu_Pslu1g17880</text></g>
<g id="L21"><text class="n" x="301.5" y="162.5">0.0875</text><use href="#bm" x="302" y="162.5"/><text class="t" x="307" y="165.7">Pslu_Pslu5g04847</text></g>
<g id="L22"><text class="n" x="326.5" y="170.4">0.0272</text><use href="#bm" x="327" y="170.4"/><text class="t" x="332" y="173.6">Pslu_Pslu1g15844</text></g>
<g id="L23"><text class="n" x="432.5" y="178.2">0.0734</text><use href="#bm" x="433" y="178.2"/><text class="t" x="438" y="181.4">Pslu_Pslu6g08253</text></g>
<g id="L24"><text class="n" x="457.5" y="186.1">0.0847</text><use href="#bm" x="458" y="186.1"/><text class="t" x="463" y="189.3">Pslu_Pslu1g10701</text></g>
<g id="L25"><text class="n" x="472.5" y="194">0.0887</text><use href="#bm" x="473" y="194"/><text class="t" x="478" y="197.2">Pslu_Pslu1g10826</text></g>
<g id="L26"><text class="n" x="497.5" y="201.9">0.0673</text><use href="#bm" x="498" y="201.9"/><text class="t" x="503" y="205.1">Pslu_Pslu4g10262</text></g>
<g id="L27"><text class="n" x="426.5" y="209.7">0.0174</text><use href="#bm" x="427" y="209.7"/><text class="t" x="432" y="212.9">Pslu_Pslu2g07452</text></g>
<g id="L28"><text class="n" x="562.5" y="217.6">0.0110</text><use href="#bm" x="563" y="217.6"/><text class="t" x="568" y="220.8">Pslu_Pslu1g13851</text></g>
<g id="L29"><text class="n" x="589.5" y="225.5">0.0976</text><use href="#bm" x="590" y="225.5"/><text class="t" x="595" y="228.7">Pslu_Pslu2g08813</text></g>
<g id="L30"><text class="n" x="589.5" y="233.3">0.0193</text><use href="#bm" x="590" y="233.3"/><text class="t" x="595" y="236.5">Pslu_Pslu2g08841</text></g>
<g id="L31"><text class="n" x="566.5" y="241.2">0.0881</text><use href="#bm" x="567" y="241.2"/><text class="t" x="572" y="244.4">Pslu_Pslu4g18051</text></g>
<g id="L32"><text class="n" x="607.5" y="249.1">0.0887</text><use href="#bm" x="608" y="249.1"/><text class="t" x="613" y="252.3">Pslu_Pslu5g08801</text></g>
<g id="L33"><text class="n" x="567.5" y="257">0.0784</text><use href="#bm" x="568" y="257"/><text class="t" x="573" y="260.2">Pslu_Pslu6g05813</text></g>
<g id="L34"><text class="n" x="599.5" y="264.8">0.0822</text><use href="#bm" x="600" y="264.8"/><text class="t" x="605" y="268">Pslu_Pslu5g07673</text></g>
<g id="L35"><text class="n" x="936.5" y="272.7">0.488</text><use href="#bm" x="937" y="272.7"/><text class="t" x="942" y="275.9">Pslu_Pslu7g05154</text></g>
<g id="L36"><text class="n" x="554.5" y="280.6">0.0897</text><use href="#bm" x="555" y="280.6"/><text class="t" x="560" y="283.8">Pslu_Pslu8g04780</text></g>
<g id="L37"><text class="n" x="587.5" y="288.5">0.0398</text><use href="#bm" x="588" y="288.5"/><text class="t" x="593" y="291.7">Pslu_Pslu2g07880</text></g>
<g id="L38"><text class="n" x="587.5" y="296.3">0.0384</text><use href="#bm" x="588" y="296.3"/><text class="t" x="593" y="299.5">Pslu_Pslu2g08848</text></g>
<g id="L39"><text class="n" x="582.5" y="304.2">0.00747</text><use href="#bm" x="583" y="304.2"/><text class="t" x="588" y="307.4">Pslu_Pslu4g10749</text></g>
<g id="L40"><text class="n" x="582.5" y="312.1">0.00186</text><use href="#bm" x="583" y="312.1"/><text class="t" x="588" y="315.3">Pslu_Pslu5g05346</text></g>
<g id="L41"><text class="n" x="582.5" y="320">0.0851</text><use href="#bm" x="583" y="320"/><text class="t" x="588" y="323.2">Pslu_Pslu3g08562</text></g>
<g id="L42"><text class="n" x="621.5" y="327.8">0.00186</text><use href="#bm" x="622" y="327.8"/><text class="t" x="627" y="331">Pslu_Pslu8g04718</text></g>
<g id="L43"><text class="n" x="621.5" y="335.7">0.00186</text><use href="#bm" x="622" y="335.7"/><text class="t" x="627" y="338.9">Pslu_Pslu8g04720</text></g>
<g id="L44"><text class="n" x="526.5" y="343.6">0.0848</text><use href="#bm" x="527" y="343.6"/><text class="t" x="532" y="346.8">Pslu_Pslu1g05453</text></g>
<g id="L45"><text class="n" x="551.5" y="351.5">0.0274</text><use href="#bm" x="552" y="351.5"/><text class="t" x="557" y="354.7">Pslu_Pslu2g15098</text></g>
<g id="L46"><text class="n" x="548.5" y="359.3">0.0258</text><use href="#bm" x="549" y="359.3"/><text class="t" x="554" y="362.5">Pslu_Pslu8g09228</text></g>
<g id="L47"><text class="n" x="499.5" y="367.2">0.0413</text><use href="#bm" x="500" y="367.2"/><text class="t" x="505" y="370.4">Pslu_Pslu4g13189</text></g>
<g id="L48"><text class="n" x="462.5" y="375.1">0.0482</text><use href="#bm" x="463" y="375.1"/><text class="t" x="468" y="378.3">Pslu_Pslu6g07025</text></g>
<g id="L49"><text class="n" x="491.5" y="383">0.0862</text><use href="#bm" x="492" y="383"/><text class="t" x="497" y="386.2">Pslu_Pslu1g18551</text></g>
<g id="L50"><text class="n" x="526.5" y="390.8">0.0448</text><use href="#bm" x="527" y="390.8"/><text class="t" x="532" y="394">Pslu_Pslu4g08805</text></g>
<g id="L51"><text class="n" x="525.5" y="398.7">0.0453</text><use href="#bm" x="526" y="398.7"/><text class="t" x="531" y="401.9">Pslu_Pslu4g14818</text></g>
<g id="L52"><text class="n" x="437.5" y="406.6">0.0158</text><use href="#bm" x="438" y="406.6"/><text class="t" x="443" y="409.8">Pslu_Pslu5g05821</text></g>
<g id="L53"><text class="n" x="437.5" y="414.5">0.0158</text><use href="#bm" x="438" y="414.5"/><text class="t" x="443" y="417.7">Pslu_Pslu5g05824</text></g>
<g id="L54"><text class="n" x="354.5" y="422.3">0.00997</text><use href="#bm" x="355" y="422.3"/><text class="t" x="360" y="425.5">Pslu_Pslu7g05702</text></g>
<g id="L55"><text class="n" x="196.5" y="430.2">0.0277</text><use href="#bm" x="197" y="430.2"/><text class="t" x="202" y="433.4">Pslu_Pslu7g05258</text></g>
<g id="L56"><text class="n" x="416.5" y="438.1">0.23</text><use href="#bm" x="417" y="438.1"/><text class="t" x="422" y="441.3">Pslu_Pslu2g11779</text></g>
<g id="L57"><text class="n" x="266.5" y="446">99.99</text><use href="#bm" x="267" y="446"/><text class="t" x="272" y="449.2">Pslu_Pslu3g08818</text></g>
<g id="L58"><text class="n" x="266.5" y="453.8">0.0746</text><use href="#bm" x="267" y="453.8"/><text class="t" x="272" y="457">Pslu_Pslu4g11513</text></g>
<g id="L59"><text class="n" x="236.5" y="461.7">0.0281</text><use href="#bm" x="237" y="461.7"/><text class="t" x="242" y="464.9">Pslu_Pslu5g08063</text></g>
<g id="L60"><text class="n" x="211.5" y="469.6">0.0461</text><use href="#bm" x="212" y="469.6"/><text class="t" x="217" y="472.8">Pslu_Pslu2g08720</text></g>
<g id="L61"><text class="n" x="261.5" y="477.5">0.0848</text><use href="#bm" x="262" y="477.5"/><text class="t" x="267" y="480.7">Pslu_Pslu6g08309</text></g>
<g id="L62"><text class="n" x="261.5" y="485.3">0.0488</text><use href="#bm" x="262" y="485.3"/><text class="t" x="267" y="488.5">Pslu_Pslu5g08303</text></g>
<g id="L63"><text class="n" x="229.5" y="493.2">0.0258</text><use href="#bm" x="230" y="493.2"/><text class="t" x="235" y="496.4">Pslu_Pslu6g07482</text></g>
<g id="L64"><text class="n" x="204.5" y="501.1">0.0167</text><use href="#bm" x="205" y="501.1"/><text class="t" x="210" y="504.3">Pslu_Pslu1g21278</text></g>
<g id="L65"><text class="n" x="212.5" y="509">0.0777</text><use href="#bm" x="213" y="509"/><text class="t" x="218" y="512.2">Pslu_Pslu3g04828</text></g>
<g id="L66"><text class="n" x="212.5" y="516.8">0.0488</text><use href="#bm" x="213" y="516.8"/><text class="t" x="218" y="520">Pslu_Pslu4g05780</text></g>
<g id="L67"><text class="n" x="237.5" y="524.7">0.0864</text><use href="#bm" x="238" y="524.7"/><text class="t" x="243" y="527.9">Pslu_Pslu4g08542</text></g>
<g id="L68"><text class="n" x="249.5" y="532.6">0.0535</text><use href="#bm" x="250" y="532.6"/><text class="t" x="255" y="535.8">Pslu_Pslu7g02888</text></g>
<g id="L69"><text class="n" x="204.5" y="540.4">0.0888</text><use href="#bm" x="205" y="540.4"/><text class="t" x="210" y="543.6">Pslu_Pslu1g10584</text></g>
<g id="L70"><text class="n" x="269.5" y="548.3">0.0136</text><use href="#bm" x="270" y="548.3"/><text class="t" x="275" y="551.5">Pslu_Pslu2g07065</text></g>
<g id="L71"><text class="n" x="364.5" y="556.2">0.0914</text><use href="#bm" x="365" y="556.2"/><text class="t" x="370" y="559.4">Pslu_Pslu3g10888</text></g>
<g id="L72"><text class="n" x="427.5" y="564.1">0.0362</text><use href="#bm" x="428" y="564.1"/><text class="t" x="433" y="567.3">Pslu_Pslu2g10708</text></g>
<g id="L73"><text class="n" x="466.5" y="572">0</text><use href="#bm" x="467" y="572"/><text class="t" x="472" y="575.2">Pslu_Pslu2g08397</text></g>
<g id="L74"><text class="n" x="466.5" y="579.8">0</text><use href="#bm" x="467" y="579.8"/><text class="t" x="472" y="583">Pslu_Pslu2g08398</text></g>
<g id="L75"><text class="n" x="452.5" y="587.7">0.0867</text><use href="#bm" x="453" y="587.7"/><text class="t" x="458" y="590.9">Pslu_Pslu3g04338</text></g>
<g id="L76"><text class="n" x="457.5" y="595.6">0.116</text><use href="#bm" x="458" y="595.6"/><text class="t" x="463" y="598.8">Pslu_Pslu6g02585</text></g>
<g id="L77"><text class="n" x="374.5" y="603.5">0.0278</text><use href="#bm" x="375" y="603.5"/><text class="t" x="380" y="606.7">Pslu_Pslu4g08249</text></g>
<g id="L78"><text class="n" x="384.5" y="611.3">0.068</text><use href="#bm" x="385" y="611.3"/><text class="t" x="390" y="614.5">Pslu_Pslu5g05411</text></g>
<g id="L79"><text class="n" x="375.5" y="619.2">0.0287</text><use href="#bm" x="376" y="619.2"/><text class="t" x="381" y="622.4">Pslu_Pslu2g05417</text></g>
<g id="L80"><text class="n" x="389.5" y="627.1">0.0685</text><use href="#bm" x="390" y="627.1"/><text class="t" x="395" y="630.3">Pslu_Pslu2g11873</text></g>
<g id="L81"><text class="n" x="384.5" y="635">0.00851</text><use href="#bm" x="385" y="635"/><text class="t" x="390" y="638.2">Pslu_Pslu7g07288</text></g>
<g id="L82"><text class="n" x="424.5" y="642.8">0.0844</text><use href="#bm" x="425" y="642.8"/><text class="t" x="430" y="646">Pslu_Pslu8g05518</text></g>
<g id="L83"><text class="n" x="412.5" y="650.7">0.0477</text><use href="#bm" x="413" y="650.7"/><text class="t" x="418" y="653.9">Pslu_Pslu5g08980</text></g>
<g id="L84"><text class="n" x="292.5" y="658.6">0.0448</text><use href="#bm" x="293" y="658.6"/><text class="t" x="298" y="661.8">Pslu_Pslu4g08449</text></g>
<g id="L85"><text class="n" x="274.5" y="666.5">0.0408</text><use href="#bm" x="275" y="666.5"/><text class="t" x="280" y="669.7">Pslu_Pslu1g10824</text></g>
<g id="L86"><text class="n" x="321.5" y="674.3">0.0388</text><use href="#bm" x="322" y="674.3"/><text class="t" x="327" y="677.5">Pslu_Pslu6g08298</text></g>
<g id="L87"><text class="n" x="351.5" y="682.2">0.0277</text><use href="#bm" x="352" y="682.2"/><text class="t" x="357" y="685.4">Pslu_Pslu2g10882</text></g>
<g id="L88"><text class="n" x="351.5" y="690.1">0.0177</text><use href="#bm" x="352" y="690.1"/><text class="t" x="357" y="693.3">Pslu_Pslu3g08158</text></g>
<g id="L89"><text class="n" x="406.5" y="698">99.99</text><use href="#bm" x="407" y="698"/><text class="t" x="412" y="701.2">Pslu_Pslu8g08283</text></g>
<g id="L90"><text class="n" x="409.5" y="705.8">0.0388</text><use href="#bm" x="410" y="705.8"/><text class="t" x="415" y="709">Pslu_Pslu8g02885</text></g>
<g id="L91"><text class="n" x="382.5" y="713.7">0.00787</text><use href="#bm" x="383" y="713.7"/><text class="t" x="388" y="716.9">Pslu_Pslu4g10731</text></g>
<g id="L92"><text class="n" x="374.5" y="721.6">0.0178</text><use href="#bm" x="375" y="721.6"/><text class="t" x="380" y="724.8">Pslu_Pslu1g11353</text></g>
<g id="L93"><text class="n" x="389.5" y="729.5">0.0388</text><use href="#bm" x="390" y="729.5"/><text class="t" x="395" y="732.7">Pslu_Pslu2g07013</text></g>
<g id="L94"><text class="n" x="356.5" y="737.3">0.0278</text><use href="#bm" x="357" y="737.3"/><text class="t" x="362" y="740.5">Pslu_Pslu1g08880</text></g>
<g id="L95"><text class="n" x="384.5" y="745.2">0.00773</text><use href="#bm" x="385" y="745.2"/><text class="t" x="390" y="748.4">Pslu_Pslu3g08720</text></g>
<g id="L96"><text class="n" x="412.5" y="753.1">0.0278</text><use href="#bm" x="413" y="753.1"/><text class="t" x="418" y="756.3">Pslu_Pslu8g08187</text></g>
<g id="L97"><text class="n" x="412.5" y="761">0.0057</text><use href="#bm" x="413" y="761"/><text class="t" x="418" y="764.2">Pslu_Pslu2g14145</text></g>
<g id="L98"><text class="n" x="306.5" y="768.8">0.0837</text><use href="#bm" x="307" y="768.8"/><text class="t" x="312" y="772">Pslu_Pslu7g08180</text></g>
<g id="L99"><text class="n" x="481.5" y="776.7">0.0888</text><use href="#bm" x="482" y="776.7"/><text class="t" x="487" y="779.9">Pslu_Pslu1g15197</text></g>
<g id="L100"><text class="n" x="456.5" y="784.6">99.99</text><use href="#bm" x="457" y="784.6"/><text class="t" x="462" y="787.8">Pslu_Pslu4g10815</text></g>
<g id="L101"><text class="n" x="454.5" y="792.5">0.0377</text><use href="#bm" x="455" y="792.5"/><text class="t" x="460" y="795.7">Pslu_Pslu2g07578</text></g>
<g id="L102"><text class="n" x="482.5" y="800.3">0.0088</text><use href="#bm" x="483" y="800.3"/><text class="t" x="488" y="803.5">Pslu_Pslu2g11808</text></g>
<g id="L103"><text class="n" x="489.5" y="808.2">0.0447</text><use href="#bm" x="490" y="808.2"/><text class="t" x="495" y="811.4">Pslu_Pslu7g08854</text></g>
<g id="L104"><text class="n" x="499.5" y="816.1">0.0157</text><use href="#bm" x="500" y="816.1"/><text class="t" x="505" y="819.3">Pslu_Pslu5g07382</text></g>
<g id="L105"><text class="n" x="531.5" y="824">0.0288</text><use href="#bm" x="532" y="824"/><text class="t" x="537" y="827.2">Pslu_Pslu8g08843</text></g>
<g id="L106"><text class="n" x="569.5" y="831.8">0.00747</text><use href="#bm" x="570" y="831.8"/><text class="t" x="575" y="835">Pslu_Pslu8g08848</text></g>
<g id="L107"><text class="n" x="567.5" y="839.7">0</text><use href="#bm" x="568" y="839.7"/><text class="t" x="573" y="842.9">Pslu_Pslu8g08849</text></g>
<g id="L108"><text class="n" x="567.5" y="847.6">0</text><use href="#bm" x="568" y="847.6"/><text class="t" x="573" y="850.8">Pslu_Pslu8g08852</text></g>
<g id="L109"><text class="n" x="491.5" y="855.5">99.99</text><use href="#bm" x="492" y="855.5"/><text class="t" x="497" y="858.7">Pslu_Pslu2g08553</text></g>
<g id="L110"><text class="n" x="497.5" y="863.3">0.0888</text><use href="#bm" x="498" y="863.3"/><text class="t" x="503" y="866.5">Pslu_Pslu2g08561</text></g>
<g id="L111"><text class="n" x="694.5" y="871.2">0.181</text><use href="#bm" x="695" y="871.2"/><text class="t" x="700" y="874.4">Pslu_Pslu6g07033</text></g>
<g id="L112"><text class="n" x="1107.5" y="879.1">0.761</text><use href="#bm" x="1108" y="879.1"/><text class="t" x="1113" y="882.3">Pslu_Pslu6g08819</text></g>
<g id="L113"><text class="n" x="427.5" y="887">0.058</text><use href="#bm" x="428" y="887"/><text class="t" x="433" y="890.2">Pslu_Pslu6g08145</text></g>
<g id="L114"><text class="n" x="411.5" y="894.8">0.0278</text><use href="#bm" x="412" y="894.8"/><text class="t" x="417" y="898">Pslu_Pslu3g15581</text></g>
<g id="L115"><text class="n" x="414.5" y="902.7">0.0477</text><use href="#bm" x="415" y="902.7"/><text class="t" x="420" y="905.9">Pslu_Pslu1g13188</text></g>
<g id="L116"><text class="n" x="412.5" y="910.6">0.0278</text><use href="#bm" x="413" y="910.6"/><text class="t" x="418" y="913.8">Pslu_Pslu1g13758</text></g>
<g id="L117"><text class="n" x="439.5" y="918.5">0.0887</text><use href="#bm" x="440" y="918.5"/><text class="t" x="445" y="921.7">Pslu_Pslu3g07054</text></g>
<g id="L118"><text class="n" x="439.5" y="926.3">0.0888</text><use href="#bm" x="440" y="926.3"/><text class="t" x="445" y="929.5">Pslu_Pslu3g07053</text></g>
<g id="L119"><text class="n" x="439.5" y="934.2">0.0131</text><use href="#bm" x="440" y="934.2"/><text class="t" x="445" y="937.4">Pslu_Pslu4g08280</text></g>
<g id="L120"><text class="n" x="439.5" y="942.1">0.0278</text><use href="#bm" x="440" y="942.1"/><text class="t" x="445" y="945.3">Pslu_Pslu5g08542</text></g>
<g id="L121"><text class="n" x="347.5" y="950">0.0847</text><use href="#bm" x="348" y="950"/><text class="t" x="353" y="953.2">Pslu_Pslu1g13588</text></g>
<g id="L122"><text class="n" x="356.5" y="957.8">0.044</text><use href="#bm" x="357" y="957.8"/><text class="t" x="362" y="961">Pslu_Pslu8g07753</text></g>
<g id="L123"><text class="n" x="269.5" y="965.7">0.0275</text><use href="#bm" x="270" y="965.7"/><text class="t" x="275" y="968.9">Pslu_Pslu4g11039</text></g>
<g id="L124"><text class="n" x="263.5" y="973.6">0.0278</text><use href="#bm" x="264" y="973.6"/><text class="t" x="269" y="976.8">Pslu_Pslu2g08297</text></g>
<g id="L125"><text class="n" x="276.5" y="981.5">0</text><use href="#bm" x="277" y="981.5"/><text class="t" x="282" y="984.7">Pslu_Pslu7g08703</text></g>
<g id="L126"><text class="n" x="276.5" y="989.3">0</text><use href="#bm" x="277" y="989.3"/><text class="t" x="282" y="992.5">Pslu_Pslu7g08708</text></g>
<g id="L127"><text class="n" x="207.5" y="997.2">0.0463</text><use href="#bm" x="208" y="997.2"/><text class="t" x="213" y="1000.4">Pslu_Pslu7g05205</text></g>
<g id="L128"><text class="n" x="204.5" y="1005.1">0.0437</text><use href="#bm" x="205" y="1005.1"/><text class="t" x="210" y="1008.3">Pslu_Pslu6g08565</text></g>
</g>
<g id="scale-bar">
<path d="M7.3 1014H44.3M7.3 1012.3V1015.7M44.3 1012.3V1015.7" fill="none" stroke="#333" stroke-width="1"/>
<text class="n" x="8" y="1020.5" style="text-anchor:start">0.05</text>
</g>
</svg>
